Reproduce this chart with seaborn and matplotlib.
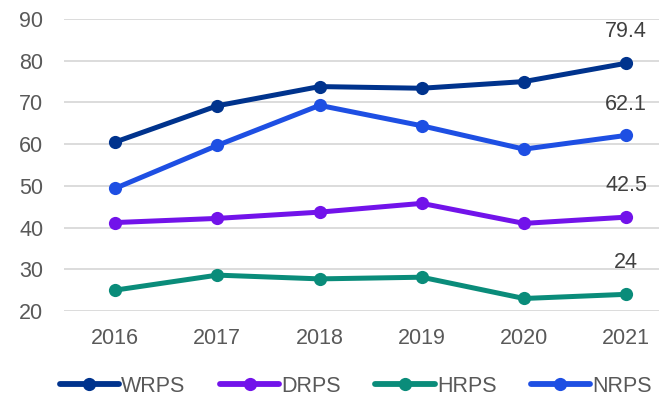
import pandas as pd
import seaborn as sns
import matplotlib.pyplot as plt

years = ["2016", "2017", "2018", "2019", "2020", "2021"]
wrps = [60.5, 69.2, 73.8, 73.4, 75.0, 79.4]
drps = [41.2, 42.2, 43.7, 45.8, 41.0, 42.5]
hrps = [25.0, 28.6, 27.7, 28.1, 23.0, 24.0]
nrps = [49.4, 59.7, 69.3, 64.4, 58.8, 62.1]
series_names = ["WRPS", "DRPS", "HRPS", "NRPS"]
last_labels = ["79.4", "42.5", "24", "62.1"]

colors = {"WRPS": "#00338D", "DRPS": "#7213EA", "HRPS": "#0A8C7A", "NRPS": "#1E4FE3"}

rows = []
for name, vals in zip(series_names, [wrps, drps, hrps, nrps]):
    for y, v in zip(years, vals):
        rows.append({"year": y, "value": v, "series": name})
df = pd.DataFrame(rows)

sns.set_style("white")
plt.rcParams["font.family"] = ["Liberation Sans", "DejaVu Sans"]
fs = 15.5

fig = plt.figure(figsize=(6.59, 4.0), dpi=100)
ax = fig.add_axes([64 / 659, 89 / 400, 1 - 64 / 659, 292 / 400])

sns.lineplot(data=df, x="year", y="value", hue="series", hue_order=series_names,
             palette=colors, marker="o", markersize=9.5, linewidth=3.6,
             markeredgewidth=0, ax=ax, legend=True, sort=False)

ax.set_ylim(20, 90)
ax.set_xlim(-0.5, 5.32)
ax.set_yticks(range(20, 91, 10))
ax.grid(axis="y", color="#d9d9d9", linewidth=1.3)
ax.set_axisbelow(True)
for s in ax.spines.values():
    s.set_visible(False)
ax.tick_params(axis="both", length=0, labelsize=fs, labelcolor="#595959")
ax.tick_params(axis="x", pad=12)
ax.tick_params(axis="y", pad=15)
ax.set_xlabel("")
ax.set_ylabel("")

for name, vals, lab in zip(series_names, [wrps, drps, hrps, nrps], last_labels):
    ax.annotate(lab, (5, vals[-1]), xytext=(0, 15), textcoords="offset points",
                ha="center", va="bottom", fontsize=fs, color="#404040")

handles, labels = ax.get_legend_handles_labels()
for h in handles:
    h.set_linewidth(4.2)
ax.get_legend().remove()
fig.legend(handles, labels, loc="center", bbox_to_anchor=(0.54, 0.034),
           ncol=4, frameon=False, fontsize=fs, handlelength=2.75,
           handletextpad=0.1, columnspacing=1.6, labelcolor="#595959")

fig.savefig("out.png", dpi=100)
